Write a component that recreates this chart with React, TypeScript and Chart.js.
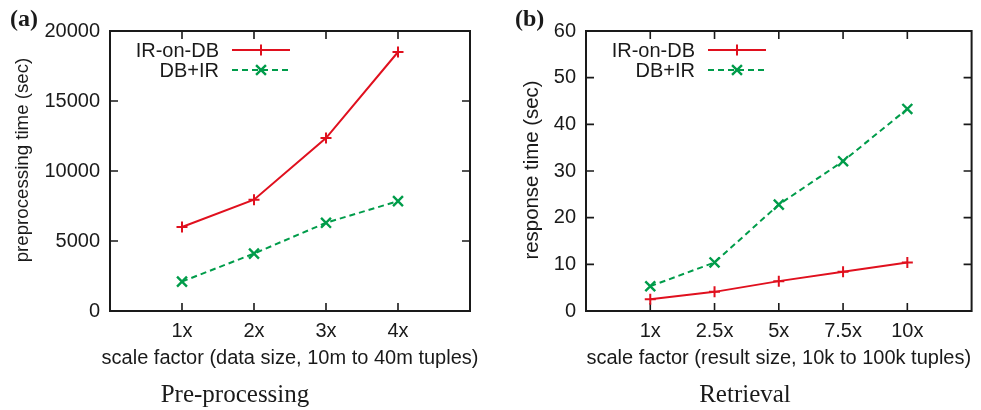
import React, { useEffect, useRef } from 'react';
import { Chart, registerables } from 'chart.js';

Chart.register(...registerables);

// ---------- data ----------
const preCategories = ['1x', '2x', '3x', '4x'];
const preIrOnDb = [6000, 7950, 12350, 18500];
const preDbIr = [2100, 4100, 6300, 7850];
const preYTicks = [0, 5000, 10000, 15000, 20000];

const retCategories = ['1x', '2.5x', '5x', '7.5x', '10x'];
const retIrOnDb = [2.5, 4.1, 6.4, 8.4, 10.4];
const retDbIr = [5.3, 10.4, 22.8, 32.1, 43.3];
const retYTicks = [0, 10, 20, 30, 40, 50, 60];

const seriesLabels = ['IR-on-DB', 'DB+IR'];

// ---------- styles ----------
const RED = '#e0101e';
const GREEN = '#009c4a';
const INK = '#1a1a1a';
const SANS = '"Liberation Sans", Arial, Helvetica, sans-serif';
const SERIF = '"Liberation Serif", "Times New Roman", serif';

interface PanelCfg {
  categories: string[];
  ir: number[];
  db: number[];
  yTicks: number[];
  yTitle: string;
  xTitle: string;
  subtitle: string;
  tag: string;
  width: number;
  padLeft: number;
  padRight: number;
  yAxisWidth: number;
  yTitleX: number;
  yTitleY: number;
  yTitleSize: number;
  legend: { textRight: number; x0: number; x1: number; y0: number };
  tagX: number;
}

const framePlugin = {
  id: 'gnuFrame',
  beforeDatasetsDraw(chart: any) {
    const { ctx, chartArea: a, scales } = chart;
    const tl = 8;
    ctx.save();
    ctx.strokeStyle = INK;
    ctx.lineWidth = 1.6;
    ctx.beginPath();
    scales.x.ticks.forEach((t: any) => {
      if (!t.label) return;
      const px = scales.x.getPixelForValue(t.value);
      ctx.moveTo(px, a.bottom);
      ctx.lineTo(px, a.bottom - tl);
      ctx.moveTo(px, a.top);
      ctx.lineTo(px, a.top + tl);
    });
    scales.y.ticks.forEach((t: any) => {
      const py = scales.y.getPixelForValue(t.value);
      ctx.moveTo(a.left, py);
      ctx.lineTo(a.left + tl, py);
      ctx.moveTo(a.right, py);
      ctx.lineTo(a.right - tl, py);
    });
    ctx.stroke();
    ctx.lineWidth = 2;
    ctx.strokeRect(a.left, a.top, a.right - a.left, a.bottom - a.top);
    ctx.restore();
  },
  afterDraw(chart: any) {
    const { ctx, chartArea: a } = chart;
    const opts = chart.options.plugins.gnuFrame;
    const lg = opts.legend;
    ctx.save();
    // panel tag
    ctx.fillStyle = INK;
    ctx.font = `bold 24px ${SERIF}`;
    ctx.textAlign = 'left';
    ctx.textBaseline = 'alphabetic';
    ctx.fillText(opts.tag, opts.tagX, 26);
    // axis titles
    ctx.font = `20px ${SANS}`;
    ctx.textAlign = 'center';
    ctx.textBaseline = 'middle';
    ctx.fillText(opts.xTitle, (a.left + a.right) / 2, 358);
    ctx.save();
    ctx.translate(opts.yTitleX, opts.yTitleY);
    ctx.rotate(-Math.PI / 2);
    ctx.font = `${opts.yTitleSize}px ${SANS}`;
    ctx.fillText(opts.yTitle, 0, 0);
    ctx.restore();
    // legend
    chart.data.datasets.forEach((ds: any, i: number) => {
      const y = lg.y0 + i * 20;
      ctx.fillStyle = INK;
      ctx.font = `20px ${SANS}`;
      ctx.textAlign = 'right';
      ctx.textBaseline = 'middle';
      ctx.fillText(ds.label, lg.textRight, y + 1);
      ctx.strokeStyle = ds.borderColor;
      ctx.lineWidth = ds.borderWidth;
      ctx.setLineDash(ds.borderDash || []);
      ctx.beginPath();
      ctx.moveTo(lg.x0, y);
      ctx.lineTo(lg.x1, y);
      ctx.stroke();
      ctx.setLineDash([]);
      const cx = (lg.x0 + lg.x1) / 2;
      const r = ds.pointRadius;
      ctx.lineWidth = ds.pointBorderWidth;
      ctx.beginPath();
      if (ds.pointStyle === 'cross') {
        ctx.moveTo(cx - r, y);
        ctx.lineTo(cx + r, y);
        ctx.moveTo(cx, y - r);
        ctx.lineTo(cx, y + r);
      } else {
        const d = r * Math.SQRT1_2;
        ctx.moveTo(cx - d, y - d);
        ctx.lineTo(cx + d, y + d);
        ctx.moveTo(cx - d, y + d);
        ctx.lineTo(cx + d, y - d);
      }
      ctx.stroke();
    });
    ctx.restore();
  },
};

function Panel({ cfg }: { cfg: PanelCfg }) {
  const ref = useRef<HTMLCanvasElement | null>(null);
  useEffect(() => {
    if (!ref.current) return;
    const tickFont = { family: SANS, size: 20 };
    const yMax = cfg.yTicks[cfg.yTicks.length - 1];
    const chart = new Chart(ref.current, {
      type: 'line',
      data: {
        datasets: [
          {
            label: seriesLabels[0],
            data: cfg.ir.map((v, i) => ({ x: i + 1, y: v })),
            borderColor: RED,
            backgroundColor: RED,
            borderWidth: 2,
            pointStyle: 'cross',
            pointRadius: 5.5,
            pointBorderWidth: 2,
            pointBorderColor: RED,
            fill: false,
            tension: 0,
          },
          {
            label: seriesLabels[1],
            data: cfg.db.map((v, i) => ({ x: i + 1, y: v })),
            borderColor: GREEN,
            backgroundColor: GREEN,
            borderWidth: 2,
            borderDash: [6, 4],
            pointStyle: 'crossRot',
            pointRadius: 7,
            pointBorderWidth: 2.4,
            pointBorderColor: GREEN,
            fill: false,
            tension: 0,
          },
        ] as any,
      },
      options: {
        animation: false,
        responsive: false,
        events: [],
        layout: { padding: { left: cfg.padLeft, right: cfg.padRight, top: 31, bottom: 0 } },
        plugins: {
          legend: { display: false },
          tooltip: { enabled: false },
          title: {
            display: true,
            position: 'bottom',
            text: cfg.subtitle,
            color: INK,
            font: { family: SERIF, size: 25, weight: 'normal', lineHeight: 1.2 },
            padding: { top: 8, bottom: 0 },
          },
          gnuFrame: {
            legend: cfg.legend,
            tag: cfg.tag,
            tagX: cfg.tagX,
            xTitle: cfg.xTitle,
            yTitle: cfg.yTitle,
            yTitleX: cfg.yTitleX,
            yTitleY: cfg.yTitleY,
            yTitleSize: cfg.yTitleSize,
          },
        } as any,
        scales: {
          x: {
            type: 'linear',
            min: 0,
            max: cfg.categories.length + 1,
            afterBuildTicks: (s: any) => {
              s.ticks = cfg.categories.map((_, i) => ({ value: i + 1 }));
            },
            afterFit: (s: any) => {
              s.height = 61;
            },
            ticks: {
              callback: (v: any) => cfg.categories[Number(v) - 1] ?? '',
              font: tickFont,
              color: INK,
              padding: 8,
              maxRotation: 0,
              autoSkip: false,
            },
            grid: { display: false, drawTicks: false },
            border: { display: false },
            title: { display: false },
          },
          y: {
            type: 'linear',
            min: 0,
            max: yMax,
            afterBuildTicks: (s: any) => {
              s.ticks = cfg.yTicks.map((v) => ({ value: v }));
            },
            afterFit: (s: any) => {
              s.width = cfg.yAxisWidth;
            },
            ticks: {
              callback: (v: any) => String(v),
              font: tickFont,
              color: INK,
              padding: 10,
              autoSkip: false,
            },
            grid: { display: false, drawTicks: false },
            border: { display: false },
            title: { display: false },
          },
        },
      } as any,
      plugins: [framePlugin as any],
    });
    return () => chart.destroy();
  }, [cfg]);
  return <canvas ref={ref} width={cfg.width} height={410} style={{ display: 'block' }} />;
}

const leftCfg: PanelCfg = {
  categories: preCategories,
  ir: preIrOnDb,
  db: preDbIr,
  yTicks: preYTicks,
  yTitle: 'preprocessing time (sec)',
  xTitle: 'scale factor (data size, 10m to 40m tuples)',
  subtitle: 'Pre-processing',
  tag: '(a)',
  width: 490,
  padLeft: 0,
  padRight: 20,
  yAxisWidth: 110,
  yTitleX: 23,
  yTitleY: 160,
  yTitleSize: 18.7,
  legend: { textRight: 219, x0: 232, x1: 290, y0: 50 },
  tagX: 10,
};

const rightCfg: PanelCfg = {
  categories: retCategories,
  ir: retIrOnDb,
  db: retDbIr,
  yTicks: retYTicks,
  yTitle: 'response time (sec)',
  xTitle: 'scale factor (result size, 10k to 100k tuples)',
  subtitle: 'Retrieval',
  tag: '(b)',
  width: 491,
  padLeft: 20,
  padRight: 1,
  yAxisWidth: 76,
  yTitleX: 42,
  yTitleY: 170,
  yTitleSize: 20.4,
  legend: { textRight: 205, x0: 218, x1: 276, y0: 50 },
  tagX: 25,
};

export default function App() {
  return (
    <div style={{ position: 'absolute', left: 0, top: 0, width: 981, height: 410, display: 'flex', background: '#fff' }}>
      <Panel cfg={leftCfg} />
      <Panel cfg={rightCfg} />
    </div>
  );
}
